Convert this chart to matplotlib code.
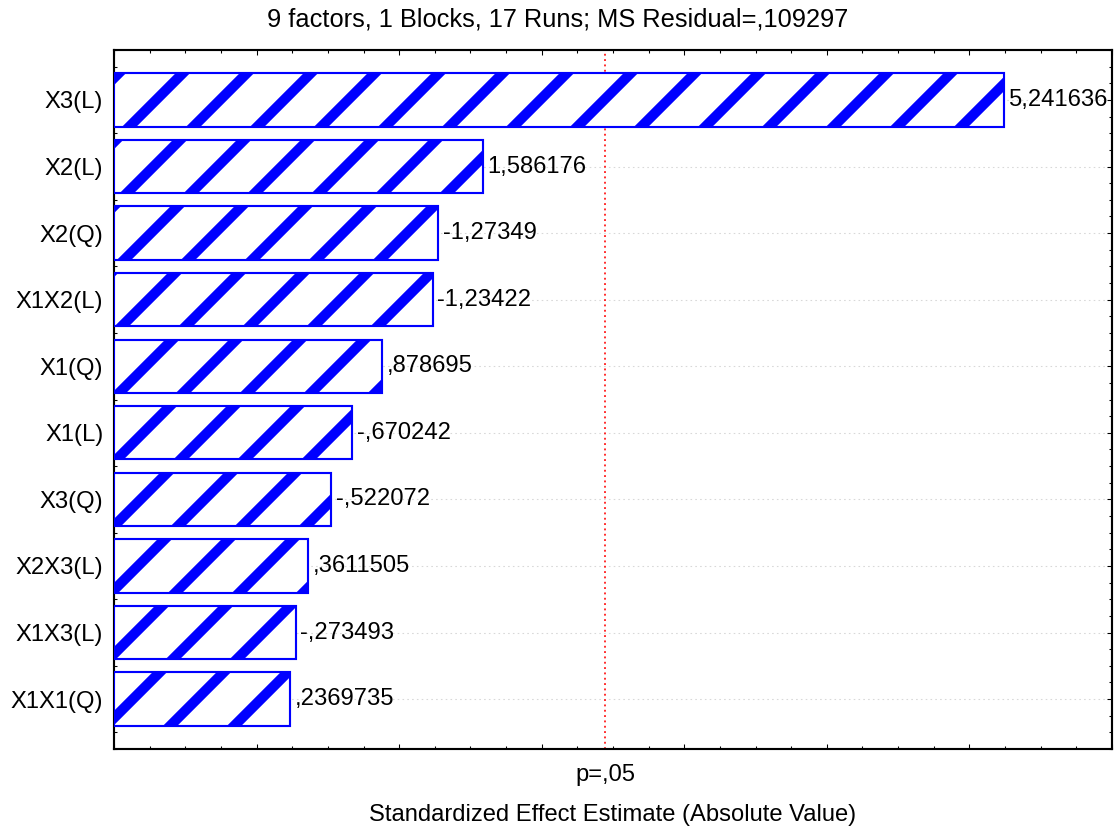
import matplotlib.pyplot as plt
from matplotlib.ticker import MultipleLocator

# effects, sorted by absolute value (largest first)
efeitos = ['X3(L)', 'X2(L)', 'X2(Q)', 'X1X2(L)', 'X1(Q)',
           'X1(L)', 'X3(Q)', 'X2X3(L)', 'X1X3(L)', 'X1X1(Q)']
valores_t = [5.241636, 1.586176, -1.27349, -1.23422, 0.878695,
             -0.670242, -0.522072, 0.3611505, -0.273493, 0.2369735]
t_critico = 2.446912   # p = .05, 6 df
x_min, x_max = -1, 6

titulo = '9 factors, 1 Blocks, 17 Runs; MS Residual=,109297'
rotulo_x = 'Standardized Effect Estimate (Absolute Value)'


def formato_statistica(v):
    s = '%.7g' % v
    s = s.replace('0.', '.', 1) if s.lstrip('-').startswith('0.') else s
    return s.replace('.', ',')


# dpi escolhido para o hatch '/' sair com listras largas
DPI = 192
W, H = 1116, 830
plt.rcParams['font.family'] = ['Liberation Sans', 'DejaVu Sans']
plt.rcParams['font.size'] = 8.9
plt.rcParams['hatch.linewidth'] = 3.8
plt.rcParams['lines.scale_dashes'] = False

fig = plt.figure(figsize=(W / DPI, H / DPI), dpi=DPI)
ax = fig.add_axes([114 / W, 1 - 749 / H, (1112 - 114) / W, (749 - 50) / H])

y = list(range(len(efeitos)))
larguras = [abs(v) - x_min for v in valores_t]
barras = ax.barh(y, larguras, left=x_min, height=0.8, color='white',
                 edgecolor='#0000ff', hatch='/', linewidth=0.8, zorder=3)
ax.bar_label(barras, labels=[formato_statistica(v) for v in valores_t],
             padding=1.8, fontsize=8.9, zorder=4)

# linha de significancia
ax.axvline(t_critico, color='red', linewidth=0.6, linestyle=(0, (0.7, 1.3)), zorder=2)
ax.text(t_critico, (749 - 775) / 699, 'p=,05', transform=ax.get_xaxis_transform(),
        ha='center', va='center', fontsize=8.9)

ax.set_xlim(x_min, x_max)
ax.set_ylim(len(efeitos) - 0.25, -0.75)
ax.set_yticks(y)
ax.set_yticklabels(efeitos)
ax.xaxis.set_major_locator(MultipleLocator(1))
ax.xaxis.set_minor_locator(MultipleLocator(0.25))
ax.yaxis.set_minor_locator(MultipleLocator(0.25))
ax.set_xticklabels([])

ax.tick_params(which='both', direction='in', top=True, right=True,
               width=0.4, colors='black')
ax.tick_params(which='major', length=1.8, pad=4.0)
ax.tick_params(which='minor', length=1.0)
for sp in ax.spines.values():
    sp.set_linewidth(0.8)

ax.grid(axis='y', which='major', color='#d8d8d8', linewidth=0.4,
        linestyle=(0, (0.6, 1.2)), zorder=1)

fig.text(0.5, 1 - 19 / H, titulo, ha='center', va='center', fontsize=9.5)
ax.set_xlabel(rotulo_x, fontsize=8.9, va='center')
ax.xaxis.set_label_coords(0.5, (749 - 815) / 699)

fig.savefig('out.png', dpi=DPI)
